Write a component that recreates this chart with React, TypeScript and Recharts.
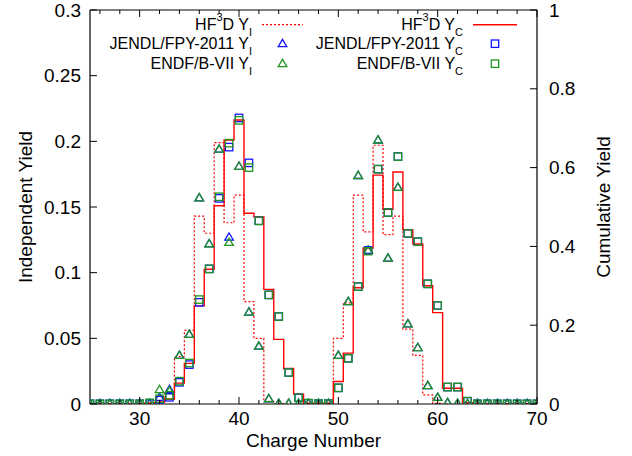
import React from "react";
import { ComposedChart, Line, Scatter, XAxis, YAxis, Legend } from "recharts";

// charge number Z of the fission fragment
const charge = [
  25, 26, 27, 28, 29, 30, 31, 32, 33, 34, 35, 36, 37, 38, 39, 40, 41, 42, 43, 44, 45, 46, 47,
  48, 49, 50, 51, 52, 53, 54, 55, 56, 57, 58, 59, 60, 61, 62, 63, 64, 65, 66, 67, 68, 69, 70,
];

// HF3D independent (left axis) and cumulative (right axis) yields
const hf3dYI = [
  0, 0, 0, 0, 0, 0.0001, 0.0005, 0.002, 0.008, 0.036, 0.056, 0.143, 0.13, 0.199, 0.138, 0.159,
  0.078, 0.05, 0.002, 0.0003, 0, 0, 0, 0, 0.0005, 0.05, 0.077, 0.159, 0.131, 0.197, 0.129, 0.143,
  0.057, 0.037, 0.007, 0.0005, 0, 0, 0, 0, 0, 0, 0, 0, 0, 0,
];
const hf3dYC = [
  0.0005, 0.0005, 0.0005, 0.0005, 0.0005, 0.001, 0.002, 0.004, 0.012, 0.053, 0.103, 0.249, 0.342,
  0.503, 0.67, 0.721, 0.484, 0.475, 0.291, 0.164, 0.09, 0.025, 0.002, 0.002, 0.002, 0.057, 0.129,
  0.295, 0.396, 0.581, 0.494, 0.589, 0.442, 0.406, 0.3, 0.232, 0.04, 0.04, 0.003, 0.001, 0.001,
  0.001, 0.001, 0.001, 0.001, 0.001,
];

// evaluated libraries
const jendlYI = [
  0.0003, 0.0003, 0.0003, 0.0003, 0.0003, 0.0003, 0.0003, 0.005, 0.011, 0.037, 0.053, 0.157, 0.122,
  0.194, 0.127, 0.181, 0.07, 0.044, 0.004, 0.0005, 0.0005, 0.0005, 0.0005, 0.0005, 0.0005, 0.037,
  0.078, 0.174, 0.117, 0.201, 0.111, 0.165, 0.061, 0.043, 0.014, 0.005, 0.001, 0.0005, 0.0003,
  0.0003, 0.0003, 0.0003, 0.0003, 0.0003, 0.0003, 0.0003,
];
const endfYI = [
  0.0003, 0.0003, 0.0003, 0.0003, 0.0003, 0.0003, 0.0003, 0.011, 0.01, 0.037, 0.053, 0.157, 0.122,
  0.194, 0.123, 0.181, 0.07, 0.044, 0.004, 0.0005, 0.0005, 0.0005, 0.0005, 0.0005, 0.0005, 0.037,
  0.078, 0.174, 0.117, 0.201, 0.111, 0.165, 0.061, 0.043, 0.014, 0.005, 0.001, 0.0005, 0.0003,
  0.0003, 0.0003, 0.0003, 0.0003, 0.0003, 0.0003, 0.0003,
];
const jendlYC = [
  0.0005, 0.0005, 0.0005, 0.0005, 0.0005, 0.0005, 0.001, 0.01, 0.017, 0.055, 0.1, 0.258, 0.343,
  0.522, 0.652, 0.726, 0.612, 0.465, 0.277, 0.222, 0.08, 0.016, 0.002, 0.001, 0.001, 0.041, 0.116,
  0.298, 0.39, 0.596, 0.486, 0.628, 0.433, 0.412, 0.305, 0.25, 0.043, 0.043, 0.007, 0.0005, 0.0005,
  0.0005, 0.0005, 0.0005, 0.0005, 0.0005,
];
const endfYC = [
  0.0005, 0.0005, 0.0005, 0.0005, 0.0005, 0.0005, 0.003, 0.013, 0.022, 0.058, 0.104, 0.265, 0.343,
  0.526, 0.662, 0.72, 0.6, 0.465, 0.277, 0.222, 0.08, 0.016, 0.002, 0.001, 0.001, 0.041, 0.116,
  0.298, 0.388, 0.596, 0.486, 0.628, 0.433, 0.412, 0.305, 0.25, 0.043, 0.043, 0.007, 0.0005, 0.0005,
  0.0005, 0.0005, 0.0005, 0.0005, 0.0005,
];

const xTicks = [
  26, 28, 30, 32, 34, 36, 38, 40, 42, 44, 46, 48, 50, 52, 54, 56, 58, 60, 62, 64, 66, 68, 70,
];
const leftTicks = [0, 0.05, 0.1, 0.15, 0.2, 0.25, 0.3];
const rightTicks = [0, 0.2, 0.4, 0.6, 0.8, 1];

const RED = "#ff0000";
const BLUE = "#1414ff";
const GREEN = "#1e961e";
const FONT = "'Liberation Sans', Arial, Helvetica, sans-serif";

const W = 632;
const H = 456;
const LEFT_W = 90;
const RIGHT_W = 95;
const TOP_H = 10;
const BOTTOM_H = 52;

const rows = charge.map((z, i) => ({
  z,
  hf3dYI: hf3dYI[i],
  hf3dYC: hf3dYC[i],
  jendlYI: jendlYI[i],
  endfYI: endfYI[i],
  jendlYC: jendlYC[i],
  endfYC: endfYC[i],
}));

const tickText = { fontSize: 19, fontFamily: FONT, fill: "#000" };

// x ticks point inward on both the bottom and the top border of the frame
const BottomTick = ({ x, y, payload }: any) => {
  const major = payload.value % 10 === 0;
  const len = major ? 7 : 4;
  return (
    <g>
      <line x1={x} x2={x} y1={y} y2={y - len} stroke="#000" strokeWidth={1} />
      <line x1={x} x2={x} y1={TOP_H} y2={TOP_H + len} stroke="#000" strokeWidth={1} />
      {major && (
        <text x={x} y={y + 21} textAnchor="middle" {...tickText}>
          {payload.value}
        </text>
      )}
    </g>
  );
};

const LeftTick = ({ x, y, payload }: any) => (
  <g>
    <line x1={x} x2={x + 7} y1={y} y2={y} stroke="#000" strokeWidth={1} />
    <text x={x - 9} y={y} dy="0.35em" textAnchor="end" {...tickText}>
      {String(payload.value)}
    </text>
  </g>
);

const RightTick = ({ x, y, payload }: any) => (
  <g>
    <line x1={x} x2={x - 7} y1={y} y2={y} stroke="#000" strokeWidth={1} />
    <text x={x + 12} y={y} dy="0.35em" textAnchor="start" {...tickText}>
      {String(payload.value)}
    </text>
  </g>
);

const triangle = (color: string) => (p: any) => {
  const { cx, cy } = p;
  if (cx == null || cy == null) return <g />;
  return (
    <polygon
      points={`${cx},${cy - 4.3} ${cx - 4.3},${cy + 3} ${cx + 4.3},${cy + 3}`}
      fill="none"
      stroke={color}
      strokeWidth={1.3}
    />
  );
};

const square = (color: string) => (p: any) => {
  const { cx, cy } = p;
  if (cx == null || cy == null) return <g />;
  return (
    <rect x={cx - 3.7} y={cy - 3.7} width={7.4} height={7.4} fill="none" stroke={color} strokeWidth={1.3} />
  );
};

type LegendLabel = { pre: string; sup?: string; mid?: string; sub: string };

const legendItems: { label: LegendLabel; col: number; row: number; kind: string; color: string }[] = [
  { label: { pre: "HF", sup: "3", mid: "D Y", sub: "I" }, col: 0, row: 0, kind: "dotted", color: RED },
  { label: { pre: "JENDL/FPY-2011 Y", sub: "I" }, col: 0, row: 1, kind: "tri", color: BLUE },
  { label: { pre: "ENDF/B-VII Y", sub: "I" }, col: 0, row: 2, kind: "tri", color: GREEN },
  { label: { pre: "HF", sup: "3", mid: "D Y", sub: "C" }, col: 1, row: 0, kind: "solid", color: RED },
  { label: { pre: "JENDL/FPY-2011 Y", sub: "C" }, col: 1, row: 1, kind: "sq", color: BLUE },
  { label: { pre: "ENDF/B-VII Y", sub: "C" }, col: 1, row: 2, kind: "sq", color: GREEN },
];

const LEGEND_TEXT_END = [252, 463];
const LEGEND_SAMPLE = [
  [262, 303],
  [473, 517],
];
const LEGEND_BASELINE = [30.4, 49.4, 69.4];

const LegendBox = () => (
  <svg width={W} height={80} style={{ display: "block" }}>
    {legendItems.map((it, i) => {
      const base = LEGEND_BASELINE[it.row];
      const cy = base - 5.7;
      const [s0, s1] = LEGEND_SAMPLE[it.col];
      const mx = (s0 + s1) / 2;
      let sample: React.ReactNode = null;
      if (it.kind === "dotted")
        sample = <line x1={s0} x2={s1} y1={cy} y2={cy} stroke={it.color} strokeWidth={1.2} strokeDasharray="2 2" />;
      else if (it.kind === "solid")
        sample = <line x1={s0} x2={s1} y1={cy} y2={cy} stroke={it.color} strokeWidth={1.4} />;
      else if (it.kind === "tri") sample = triangle(it.color)({ cx: mx, cy });
      else sample = square(it.color)({ cx: mx, cy });
      return (
        <g key={i}>
          <text x={LEGEND_TEXT_END[it.col]} y={base} textAnchor="end" fontSize={16} fontFamily={FONT} fill="#000">
            {it.label.pre}
            {it.label.sup && (
              <tspan dy={-9} fontSize={11}>
                {it.label.sup}
              </tspan>
            )}
            {it.label.sup && <tspan dy={9}>{it.label.mid}</tspan>}
            <tspan dy={6} fontSize={11}>
              {it.label.sub}
            </tspan>
          </text>
          {sample}
        </g>
      );
    })}
  </svg>
);

const titleStyle = { fontSize: 19, fontFamily: FONT, fill: "#000" };
const plotMidY = TOP_H + (H - TOP_H - BOTTOM_H) / 2;

export default function App() {
  return (
    <div style={{ position: "absolute", left: 0, top: 0, width: W, height: H, background: "#fff" }}>
      <ComposedChart width={W} height={H} data={rows} margin={{ top: 0, right: 0, bottom: 0, left: 0 }}>
        <XAxis
          xAxisId="main"
          dataKey="z"
          type="number"
          domain={[25, 70]}
          ticks={xTicks}
          interval={0}
          height={BOTTOM_H}
          tickSize={0}
          tickMargin={0}
          tickLine={false}
          tick={BottomTick}
          axisLine={{ stroke: "#000", strokeWidth: 1.2 }}
          allowDataOverflow
          label={{
            content: () => (
              <text x={LEFT_W + (W - LEFT_W - RIGHT_W) / 2} y={H - 9} textAnchor="middle" {...titleStyle}>
                Charge Number
              </text>
            ),
          }}
        />
        {/* top border of the frame only; its tick marks come from BottomTick */}
        <XAxis
          xAxisId="top"
          orientation="top"
          type="number"
          domain={[25, 70]}
          height={TOP_H}
          tick={false}
          tickLine={false}
          axisLine={{ stroke: "#000", strokeWidth: 1.2 }}
          allowDataOverflow
        />
        <YAxis
          yAxisId="left"
          type="number"
          domain={[0, 0.3]}
          ticks={leftTicks}
          interval={0}
          width={LEFT_W}
          tickSize={0}
          tickMargin={0}
          tickLine={false}
          tick={LeftTick}
          axisLine={{ stroke: "#000", strokeWidth: 1.2 }}
          allowDataOverflow
          label={{
            content: () => (
              <text
                transform={`translate(25, ${plotMidY}) rotate(-90)`}
                textAnchor="middle"
                dy="0.35em"
                {...titleStyle}
              >
                Independent Yield
              </text>
            ),
          }}
        />
        <YAxis
          yAxisId="right"
          orientation="right"
          type="number"
          domain={[0, 1]}
          ticks={rightTicks}
          interval={0}
          width={RIGHT_W}
          tickSize={0}
          tickMargin={0}
          tickLine={false}
          tick={RightTick}
          axisLine={{ stroke: "#000", strokeWidth: 1.2 }}
          allowDataOverflow
          label={{
            content: () => (
              <text
                transform={`translate(${W - RIGHT_W + 66}, ${plotMidY}) rotate(-90)`}
                textAnchor="middle"
                dy="0.35em"
                {...titleStyle}
              >
                Cumulative Yield
              </text>
            ),
          }}
        />
        <Legend
          layout="vertical"
          align="center"
          verticalAlign="middle"
          wrapperStyle={{ left: 0, top: 0, width: W, height: 80, pointerEvents: "none" }}
          content={() => <LegendBox />}
        />

        <Line
          xAxisId="main"
          yAxisId="left"
          type="step"
          dataKey="hf3dYI"
          name="HF3D YI"
          stroke={RED}
          strokeWidth={1.2}
          strokeDasharray="2 2"
          dot={false}
          activeDot={false}
          isAnimationActive={false}
        />
        <Scatter xAxisId="main" yAxisId="left" data={rows} dataKey="jendlYI" name="JENDL/FPY-2011 YI" shape={triangle(BLUE)} isAnimationActive={false} />
        <Scatter xAxisId="main" yAxisId="left" data={rows} dataKey="endfYI" name="ENDF/B-VII YI" shape={triangle(GREEN)} isAnimationActive={false} />
        <Line
          xAxisId="main"
          yAxisId="right"
          type="step"
          dataKey="hf3dYC"
          name="HF3D YC"
          stroke={RED}
          strokeWidth={1.4}
          dot={false}
          activeDot={false}
          isAnimationActive={false}
        />
        <Scatter xAxisId="main" yAxisId="right" data={rows} dataKey="jendlYC" name="JENDL/FPY-2011 YC" shape={square(BLUE)} isAnimationActive={false} />
        <Scatter xAxisId="main" yAxisId="right" data={rows} dataKey="endfYC" name="ENDF/B-VII YC" shape={square(GREEN)} isAnimationActive={false} />
      </ComposedChart>
    </div>
  );
}
